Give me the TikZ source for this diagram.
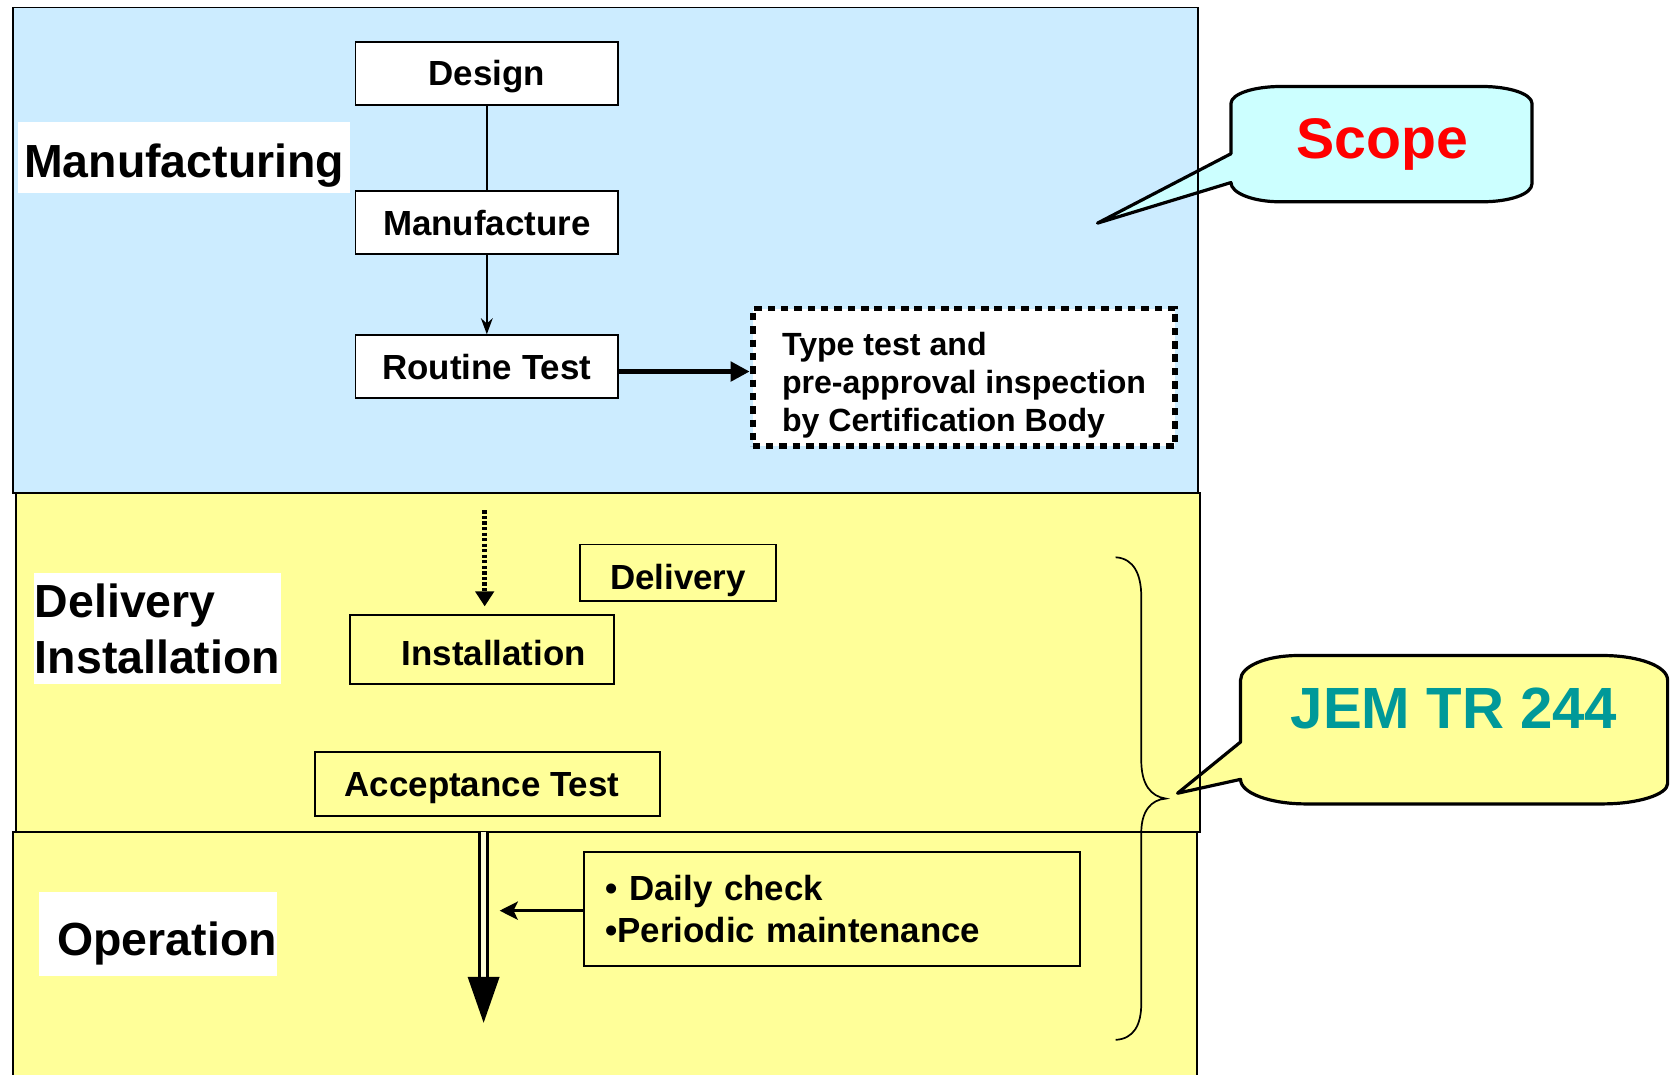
\documentclass[tikz,border=0pt]{standalone}
\usepackage{fontspec}
\setmainfont{Liberation Sans}
\usetikzlibrary{arrows.meta}
\definecolor{panelblue}{HTML}{CCECFF}
\definecolor{panelyellow}{HTML}{FFFF99}
\definecolor{scopefill}{HTML}{CCFFFF}
\definecolor{jemteal}{HTML}{009999}
\definecolor{scopered}{HTML}{FF0000}
\begin{document}
\begin{tikzpicture}[x=0.1mm,y=-0.1mm,
  panel/.style={draw=black, line width=0.16mm},
  boxfont/.style={font=\fontsize{9.3pt}{11pt}\selectfont\bfseries, text height=6.66pt, text depth=0pt},
  stepbox/.style={boxfont, draw=black, line width=0.18mm, minimum width=24.6mm, minimum height=5.9mm, inner sep=0pt},
  bigfont/.style={font=\fontsize{12.38pt}{14.8pt}\selectfont\bfseries},
  biglabel/.style={bigfont, fill=white, inner sep=0pt},
  callout/.style={draw=black, line width=0.3mm, line join=round},
  conn/.style={draw=black, line width=0.2mm},
]
\useasboundingbox (0,0) rectangle (1568,1006);

% panels (fills)
\fill[panelblue] (12,7) rectangle (1122,462);
\fill[panelyellow] (15,462) rectangle (1124,779);
\fill[panelyellow] (12,779) rectangle (1121,1020);

% callouts
\path[callout, fill=scopefill] (1153,144) -- (1153,97) .. controls (1153,88) and (1174,81) .. (1200,81)
  -- (1388,81) .. controls (1414,81) and (1435,88) .. (1435,97)
  -- (1435,172) .. controls (1435,182) and (1414,189) .. (1388,189)
  -- (1199,189) .. controls (1174,189) and (1153,181) .. (1153,171)
  -- (1028,209) -- cycle;
\path[callout, fill=panelyellow] (1162,695) -- (1162,637) .. controls (1162,624) and (1186,614) .. (1216,614)
  -- (1501,614) .. controls (1535,614) and (1562,624) .. (1562,637)
  -- (1562,734) .. controls (1562,744) and (1535,753) .. (1501,753)
  -- (1223,753) .. controls (1190,753) and (1162,743) .. (1162,730)
  -- (1103,743) -- cycle;

% panel borders
\draw[panel] (12,7) rectangle (1122,462);
\draw[panel] (15,462) rectangle (1124,779);
\draw[panel] (12,1020) -- (12,779) -- (1121,779) -- (1121,1020);

\node[font=\fontsize{15.25pt}{17pt}\selectfont\bfseries, text=scopered, text height=10.9pt, text depth=0pt, inner sep=0pt] (scope) at (1294.5,129.6) {Scope};
\node[font=\fontsize{15.5pt}{17pt}\selectfont\bfseries, text=jemteal, text height=11.1pt, text depth=0pt, inner sep=0pt] (jem) at (1362,663) {JEM TR 244};

% brace
\draw[line width=0.16mm] (1045,522) .. controls (1062,523) and (1069,538) .. (1069,559)
  -- (1069,712) .. controls (1069,735) and (1078,746) .. (1092,748)
  .. controls (1078,749) and (1069,760) .. (1069,780)
  -- (1069,940) .. controls (1069,960) and (1062,973) .. (1045,974);

% section labels
\node[biglabel, minimum width=31.1mm, minimum height=6.6mm, text height=10.56pt, text depth=0pt] (lmanu) at (172.5,147.5) {Manufacturing};
\node[biglabel, align=left, minimum width=23.1mm, minimum height=10.4mm] (ldi) at (147.5,589) {Delivery\\Installation};
\node[biglabel, minimum width=22.2mm, minimum height=7.9mm, text height=11.5pt, text depth=0pt] (lop) at (148,874.6) {\hspace*{1.7mm}Operation};

% manufacturing boxes
\node[stepbox, fill=white] (design) at (456,68.5) {Design};
\node[stepbox, fill=white] (manuf) at (456,208.5) {Manufacture};
\node[stepbox, fill=white] (rt) at (456,343.5) {Routine Test};
\node[draw=black, fill=white, line width=0.55mm, dash pattern=on 0.7mm off 0.55mm,
      minimum width=39.6mm, minimum height=12.9mm, align=left, inner sep=0pt, text height=30.8pt,
      font=\fontsize{8.56pt}{10.24pt}\selectfont\bfseries] (tt) at (903,353.5)
      {Type test and\\pre-approval inspection\\by Certification Body};

\draw[conn] (design) -- (manuf);
\draw[conn, -{Stealth[length=1.5mm, width=1.1mm]}] (manuf) -- (rt);
\draw[line width=0.45mm, -{Triangle[length=1.8mm, width=1.8mm]}] ([yshift=-0.45mm]rt.east) -- ([yshift=-0.45mm]rt.east -| tt.west);

% delivery / installation
\node[stepbox, fill=panelyellow, minimum width=18.4mm, minimum height=5.3mm, text height=8.9pt] (deliv) at (635,536.5) {Delivery};
\node[stepbox, fill=panelyellow, minimum width=24.7mm, minimum height=6.5mm, text height=8.66pt] (inst) at (451.5,608.5) {\hspace*{2.2mm}Installation};
\node[stepbox, fill=panelyellow, minimum width=32.3mm, minimum height=6mm] (acc) at (456.5,734) {Acceptance Test\hspace*{1mm}};

\coordinate (dotS) at (454,478);
\coordinate (dotE) at (454,568);
\draw[line width=0.45mm, dash pattern=on 0.3mm off 0.22mm, -{Triangle[length=1.4mm, width=1.7mm]}] (dotS) -- (dotE);

% operation
\node[draw=black, line width=0.18mm, fill=panelyellow, text width=42.5mm, inner xsep=2mm, inner ysep=0pt,
      minimum height=10.7mm, align=left, font=\fontsize{9.3pt}{11.1pt}\selectfont\bfseries] (dc) at (779.5,851.5)
      {• Daily check\\•Periodic maintenance};

\coordinate (opS) at (453,779);
\coordinate (opE) at (453,925);
\draw[line width=0.3mm, double=panelyellow!40!white, double distance=0.4mm] (opS) -- (opE);
\fill[black] (438,915) -- (468,915) -- (453,958) -- cycle;

\coordinate (dcE) at (468,853);
\draw[line width=0.3mm, -{Stealth[length=1.7mm, width=1.7mm, inset=0.4mm]}] (dc.west |- dcE) -- (dcE);
\end{tikzpicture}
\end{document}
